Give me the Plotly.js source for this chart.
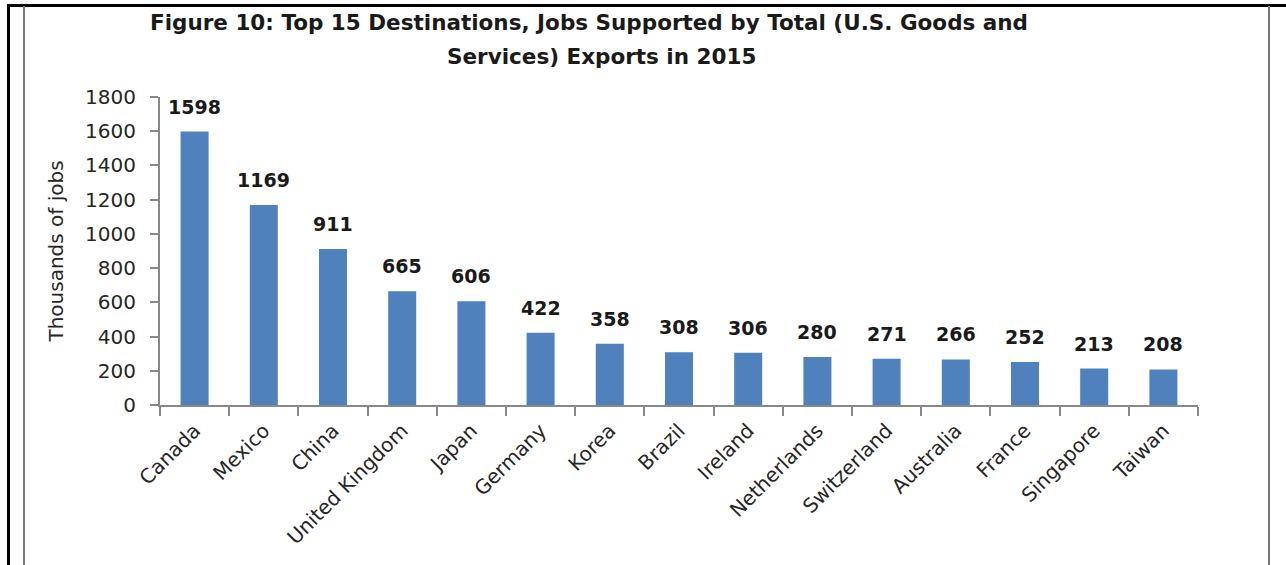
<!DOCTYPE html>
<html>
<head>
<meta charset="utf-8">
<script src="https://cdn.plot.ly/plotly-3.0.1.min.js"></script>
<style>
  html, body { margin: 0; padding: 0; background: #fff; }
  #wrap { position: relative; width: 1286px; height: 565px; overflow: hidden; }
  #chart { position: absolute; left: 0; top: 0; width: 1286px; height: 565px; }
  .frame { position: absolute; pointer-events: none; }
</style>
</head>
<body>
<div id="wrap">
  <div id="chart"></div>
  <div class="frame" style="left:7px; top:4px; width:1276px; height:600px; border-left:3px solid #000; border-top:3px solid #000; border-right:3px solid #000;"></div>
  <div class="frame" style="left:23px; top:6px; width:1243px; height:600px; border-left:2px solid #777; border-right:2px solid #777;"></div>
</div>
<script>
const titleLine1 = "Figure 10: Top 15 Destinations, Jobs Supported by Total (U.S. Goods and";
const titleLine2 = "Services) Exports in 2015";
const yAxisTitle = "Thousands of jobs";
const countries = ["Canada", "Mexico", "China", "United Kingdom", "Japan", "Germany", "Korea", "Brazil", "Ireland", "Netherlands", "Switzerland", "Australia", "France", "Singapore", "Taiwan"];
const jobs = [1598, 1169, 911, 665, 606, 422, 358, 308, 306, 280, 271, 266, 252, 213, 208];
const yTicks = [0, 200, 400, 600, 800, 1000, 1200, 1400, 1600, 1800];

const FONT = "DejaVu Sans, Open Sans, sans-serif";

const trace = {
  type: "bar",
  x: countries,
  y: jobs,
  marker: { color: "#4F81BD" },
  hoverinfo: "x+y"
};

const labelAnnotations = countries.map((c, i) => ({
  x: c, y: jobs[i], xref: "x", yref: "y",
  text: String(jobs[i]),
  showarrow: false,
  yanchor: "bottom",
  yshift: 12,
  font: { family: FONT, size: 19, color: "#1a1a1a", weight: "bold" }
}));

const layout = {
  width: 1286,
  height: 565,
  margin: { l: 160, r: 88, t: 97, b: 160, pad: 0 },
  paper_bgcolor: "#fff",
  plot_bgcolor: "#fff",
  showlegend: false,
  bargap: 0.595,
  title: {
    text: "<b>" + titleLine1 + "</b>",
    x: (589 - 160) / 1038, xref: "paper", xanchor: "center",
    y: 0.961, yref: "container", yanchor: "middle",
    font: { family: FONT, size: 21.5, color: "#1a1a1a" }
  },
  xaxis: {
    type: "category",
    tickangle: -45,
    tickson: "boundaries",
    ticks: "outside",
    ticklen: 9,
    tickwidth: 2,
    tickcolor: "#888",
    showline: true,
    linecolor: "#888",
    linewidth: 2,
    showgrid: false,
    zeroline: false,
    ticklabelstandoff: 4,
    tickfont: { family: FONT, size: 20, color: "#262626" },
    automargin: false
  },
  yaxis: {
    range: [0, 1800],
    tickvals: yTicks,
    ticktext: yTicks.map(String),
    ticks: "outside",
    ticklen: 8,
    tickwidth: 2,
    tickcolor: "#888",
    showline: true,
    linecolor: "#888",
    linewidth: 2,
    showgrid: false,
    zeroline: false,
    ticklabelstandoff: 10,
    tickfont: { family: FONT, size: 20, color: "#262626" },
    title: { text: yAxisTitle, standoff: 16, font: { family: FONT, size: 20, color: "#262626" } },
    automargin: false
  },
  annotations: labelAnnotations.concat([{
    text: "<b>" + titleLine2 + "</b>",
    xref: "paper", yref: "paper",
    x: (601 - 160) / 1038, y: 1 + (97 - 57) / 308,
    xanchor: "center", yanchor: "middle",
    showarrow: false,
    font: { family: FONT, size: 21.5, color: "#1a1a1a" }
  }])
};

Plotly.newPlot("chart", [trace], layout, { displayModeBar: false, staticPlot: true });
</script>
</body>
</html>
